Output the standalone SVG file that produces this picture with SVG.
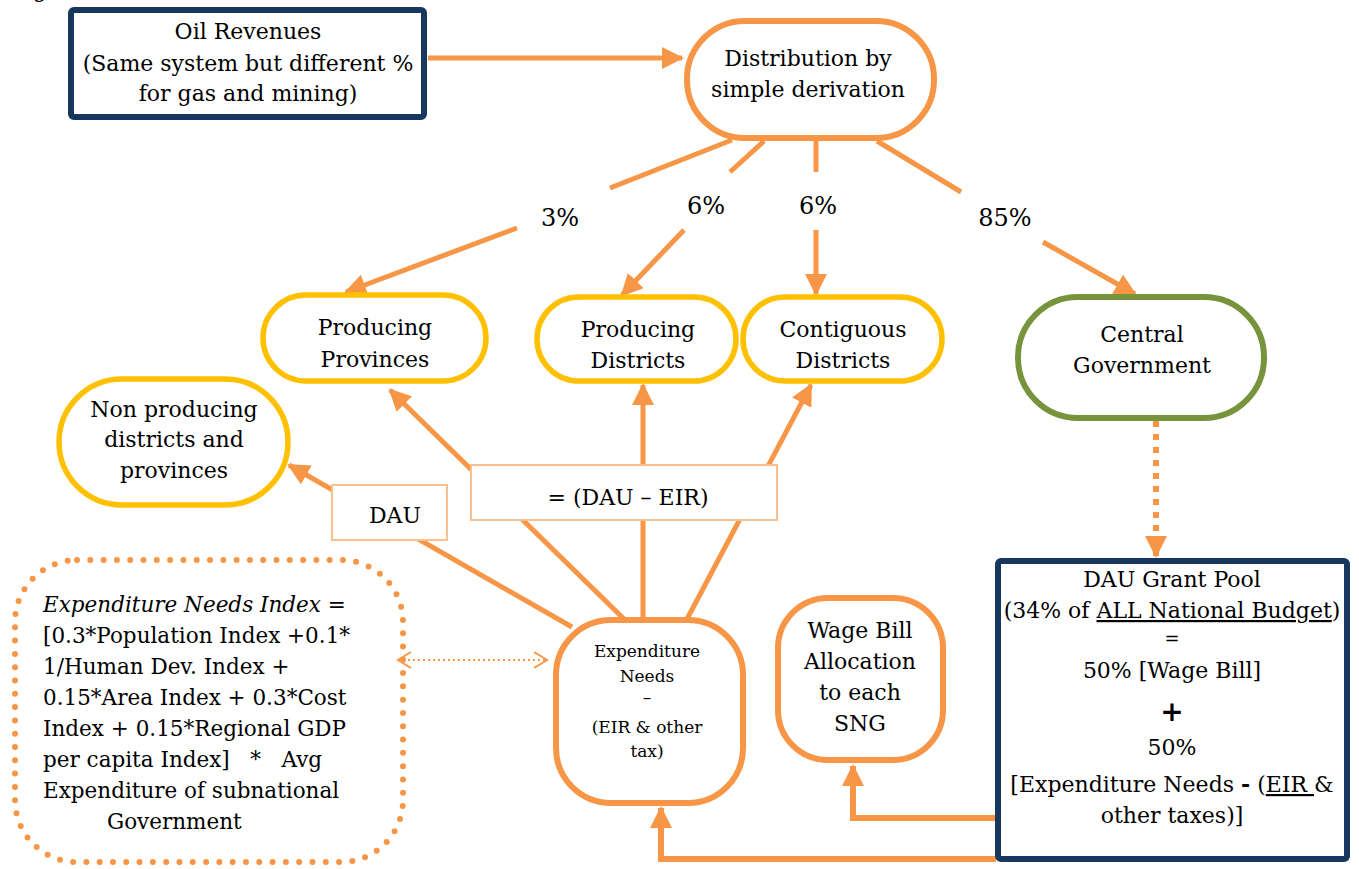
<svg xmlns="http://www.w3.org/2000/svg" width="1359" height="869" viewBox="0 0 1359 869">
<style>
text{font-family:"DejaVu Serif","Liberation Serif",serif;fill:#000;}
.t22{font-size:22px;text-anchor:middle;}
.pct{font-size:24px;text-anchor:middle;}
.small{font-size:17px;text-anchor:middle;}
.frm{font-size:21.5px;}
.navy{fill:#fff;stroke:#17375E;stroke-width:6;}
.orn{fill:#fff;stroke:#F79646;stroke-width:6;}
.yel{fill:#fff;stroke:#FFC000;stroke-width:5.5;}
.grn{fill:#fff;stroke:#77933C;stroke-width:6;}
.lbl{fill:#fff;stroke:#FAC090;stroke-width:2;}
.ln{fill:none;stroke:#F79646;stroke-width:5;}
.ln6{fill:none;stroke:#F79646;stroke-width:6;}
</style>
<defs>
<marker id="ah" markerUnits="userSpaceOnUse" markerWidth="24" markerHeight="22" refX="20" refY="11" orient="auto">
<path d="M0,0 L22,11 L0,22 Z" fill="#F79646"/>
</marker>
<marker id="ch" markerUnits="userSpaceOnUse" markerWidth="16" markerHeight="18" refX="14" refY="9" orient="auto-start-reverse">
<path d="M1,1 L14,9 L1,17" fill="none" stroke="#F79646" stroke-width="2"/>
</marker>
</defs>
<rect width="1359" height="869" fill="#fff"/>
<text x="33" y="-3" style="font-size:22px">g</text>

<g id="connectors">
<line class="ln" x1="428" y1="58" x2="682" y2="58" marker-end="url(#ah)"/>
<line class="ln" x1="732" y1="140" x2="610" y2="188"/>
<line class="ln" x1="517" y1="228" x2="346" y2="292" marker-end="url(#ah)"/>
<line class="ln" x1="764" y1="141" x2="730" y2="172"/>
<line class="ln" x1="684" y1="230" x2="622" y2="295" marker-end="url(#ah)"/>
<line class="ln" x1="816" y1="141" x2="816" y2="172"/>
<line class="ln" x1="816" y1="230" x2="816" y2="294" marker-end="url(#ah)"/>
<line class="ln" x1="877" y1="141" x2="961" y2="192"/>
<line class="ln" x1="1043" y1="242" x2="1135" y2="294" marker-end="url(#ah)"/>
<line x1="1156" y1="421" x2="1156" y2="556" stroke="#F79646" stroke-width="6" stroke-dasharray="6 7" marker-end="url(#ah)"/>
<line class="ln" x1="572" y1="627" x2="289" y2="465" marker-end="url(#ah)"/>
<line class="ln" x1="624" y1="619" x2="390" y2="390" marker-end="url(#ah)"/>
<line class="ln" x1="643" y1="619" x2="643" y2="385" marker-end="url(#ah)"/>
<line class="ln" x1="687" y1="619" x2="811" y2="385" marker-end="url(#ah)"/>
<polyline class="ln6" points="996,818 853,818 853,766" marker-end="url(#ah)"/>
<polyline class="ln6" points="996,859 661,859 661,808" marker-end="url(#ah)"/>
<line x1="398" y1="660" x2="547" y2="660" stroke="#F79646" stroke-width="2" stroke-dasharray="2 3" marker-start="url(#ch)" marker-end="url(#ch)"/>
</g>

<g id="pct-labels">
<text class="pct" x="560" y="226">3%</text>
<text class="pct" x="706" y="214">6%</text>
<text class="pct" x="818" y="214">6%</text>
<text class="pct" x="1005" y="226">85%</text>
</g>

<g id="oil">
<rect class="navy" x="71" y="10" width="353" height="107" rx="3"/>
<text class="t22" x="248" y="39">Oil Revenues</text>
<text class="t22" x="248" y="71">(Same system but different %</text>
<text class="t22" x="248" y="101">for gas and mining)</text>
</g>

<g id="distribution">
<rect class="orn" x="687" y="21" width="247" height="117" rx="58"/>
<text class="t22" x="808" y="66">Distribution by</text>
<text class="t22" x="808" y="97">simple derivation</text>
</g>

<g id="prod-prov">
<rect class="yel" x="263" y="295" width="223" height="86" rx="43"/>
<text class="t22" x="375" y="335">Producing</text>
<text class="t22" x="375" y="367">Provinces</text>
</g>

<g id="prod-dist">
<rect class="yel" x="537" y="297" width="199" height="84" rx="42"/>
<text class="t22" x="638" y="337">Producing</text>
<text class="t22" x="638" y="368">Districts</text>
</g>

<g id="contig">
<rect class="yel" x="743" y="297" width="199" height="84" rx="42"/>
<text class="t22" x="843" y="337">Contiguous</text>
<text class="t22" x="843" y="368">Districts</text>
</g>

<g id="central">
<rect class="grn" x="1018" y="297" width="246" height="121" rx="60"/>
<text class="t22" x="1142" y="342">Central</text>
<text class="t22" x="1142" y="373">Government</text>
</g>

<g id="nonprod">
<rect class="yel" x="59" y="379" width="229" height="126" rx="63"/>
<text class="t22" x="174" y="417">Non producing</text>
<text class="t22" x="174" y="447">districts and</text>
<text class="t22" x="174" y="478">provinces</text>
</g>

<g id="dau-label">
<rect class="lbl" x="332" y="485" width="115" height="55"/>
<text class="t22" x="395" y="523">DAU</text>
</g>

<g id="dau-eir-label">
<rect class="lbl" x="471" y="465" width="306" height="55"/>
<text class="t22" x="628" y="505">= (DAU – EIR)</text>
</g>

<g id="exp-needs">
<rect class="orn" x="556" y="620" width="187" height="183" rx="55"/>
<text class="small" x="647" y="657">Expenditure</text>
<text class="small" x="647" y="682">Needs</text>
<text class="small" x="647" y="703">–</text>
<text class="small" x="647" y="733">(EIR &amp; other</text>
<text class="small" x="647" y="757">tax)</text>
</g>

<g id="wage-bill">
<rect class="orn" x="778" y="598" width="165" height="162" rx="50"/>
<text class="t22" x="860" y="638">Wage Bill</text>
<text class="t22" x="860" y="669">Allocation</text>
<text class="t22" x="860" y="700">to each</text>
<text class="t22" x="860" y="731">SNG</text>
</g>

<g id="dau-pool">
<rect class="navy" x="998" y="561" width="349" height="298" rx="3"/>
<text class="t22" x="1172" y="587">DAU Grant Pool</text>
<text class="t22" x="1172" y="618">(34% of <tspan text-decoration="underline">ALL National Budget</tspan>)</text>
<text class="t22" x="1172" y="645" style="font-size:18px">=</text>
<text class="t22" x="1172" y="678">50% [Wage Bill]</text>
<text class="t22" x="1172" y="721" style="font-size:28px;font-weight:bold">+</text>
<text class="t22" x="1172" y="755">50%</text>
<text class="t22" x="1172" y="792">[Expenditure Needs <tspan font-weight="bold">-</tspan> (<tspan text-decoration="underline">EIR </tspan>&amp;</text>
<text class="t22" x="1172" y="823">other taxes)]</text>
</g>

<g id="exp-index">
<rect x="15" y="560" width="388" height="302" rx="62" fill="none" stroke="#F79646" stroke-width="6" stroke-linecap="round" stroke-dasharray="0 13.3"/>
<text class="frm" x="43" y="612"><tspan font-style="italic">Expenditure Needs Index =</tspan></text>
<text class="frm" x="43" y="643">[0.3*Population Index +0.1*</text>
<text class="frm" x="43" y="674">1/Human Dev. Index +</text>
<text class="frm" x="43" y="705">0.15*Area Index + 0.3*Cost</text>
<text class="frm" x="43" y="736">Index + 0.15*Regional GDP</text>
<text class="frm" x="43" y="767" xml:space="preserve">per capita Index]   *   Avg</text>
<text class="frm" x="43" y="798">Expenditure of subnational</text>
<text class="frm" x="107" y="829">Government</text>
</g>
</svg>
